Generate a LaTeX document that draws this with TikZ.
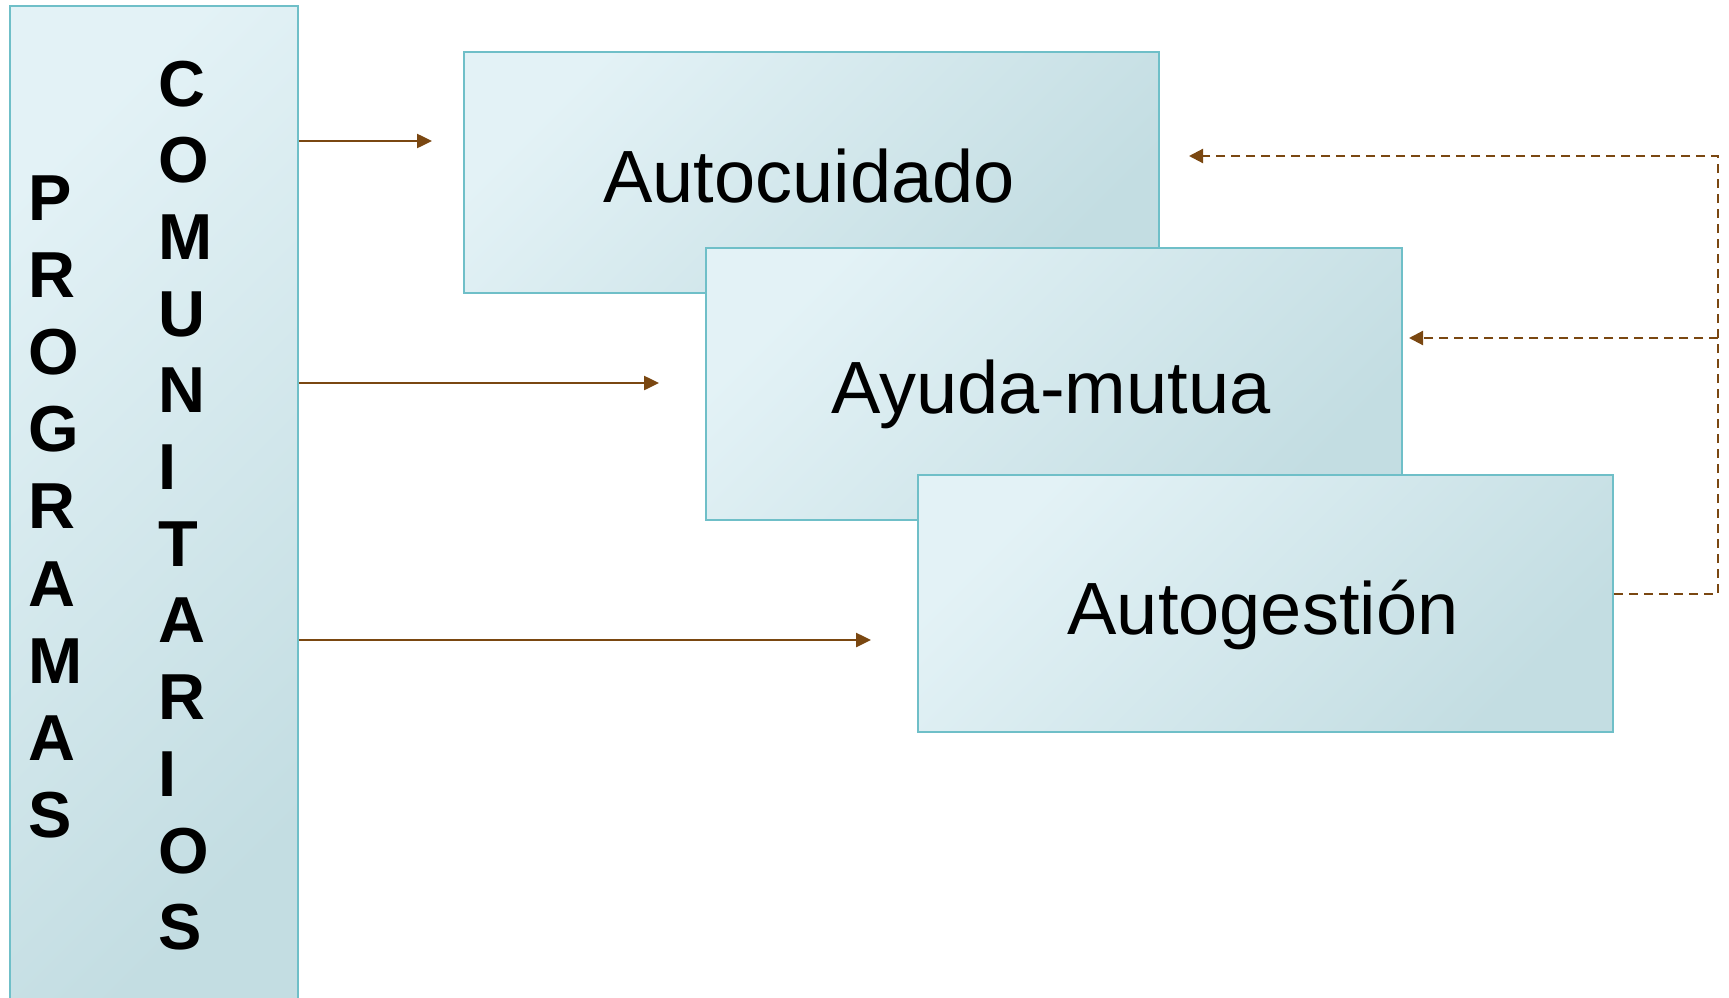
\documentclass[tikz,border=0pt]{standalone}
\usepackage{fontspec}
\setmainfont{Liberation Sans}
\usetikzlibrary{arrows.meta}
\definecolor{boxline}{HTML}{6FBFC8}
\definecolor{fillA}{HTML}{E3F2F6}
\definecolor{fillM}{HTML}{DDEFF3}
\definecolor{fillB}{HTML}{C3DDE2}
\definecolor{arrbrown}{HTML}{7A4711}
\begin{document}
\begin{tikzpicture}[x=1pt,y=-1pt,
  box/.style={draw=boxline, line width=2pt, top color=fillA, middle color=fillM, bottom color=fillB, shading angle=45, inner sep=0pt, anchor=north west},
  bigtext/.style={font=\fontsize{74}{80}\selectfont, inner sep=0pt, anchor=base},
  vlet/.style={font=\fontsize{65}{70}\selectfont\bfseries, inner sep=0pt, anchor=base west},
  arr/.style={draw=arrbrown, line width=2.5pt, -{Triangle[length=15pt,width=14pt]}},
  dsh/.style={draw=arrbrown, line width=2.2pt, dash pattern=on 9pt off 6pt},
  dsharr/.style={dsh, -{Triangle[length=14pt,width=14pt]}}]
\useasboundingbox (0,0) rectangle (1729,998);
\clip (0,0) rectangle (1729,998);
% left box
\node[box, minimum width=288pt, minimum height=1010pt] (prog) at (9,5) {};
\foreach \l [count=\i] in {P,R,O,G,R,A,M,A,S}
  \node[vlet] (p\i) at (28,{220+(\i-1)*77.2}) {\l};
\foreach \l [count=\i] in {C,O,M,U,N,I,T,A,R,I,O,S}
  \node[vlet] (c\i) at (158,{106+(\i-1)*76.7}) {\l};
% boxes
\node[box, minimum width=695pt, minimum height=241pt] (cuid) at (463,51) {};
\node[bigtext] (tcuid) at (809,202) {Autocuidado};
\node[box, minimum width=696pt, minimum height=272pt] (ayuda) at (705,247) {};
\node[bigtext] (tayuda) at (1051,413) {Ayuda-mutua};
\node[box, minimum width=695pt, minimum height=257pt] (gest) at (917,474) {};
\node[bigtext] (tgest) at (1263,634) {Autogestión};
% solid arrows
\coordinate (t1) at (432,141);
\coordinate (t2) at (659,383);
\coordinate (t3) at (871,640);
\draw[arr] (prog.east |- t1) -- (t1);
\draw[arr] (prog.east |- t2) -- (t2);
\draw[arr] (prog.east |- t3) -- (t3);
% dashed feedback
\coordinate (k1) at (1718,156);
\coordinate (k2) at (1718,338);
\coordinate (k3) at (1718,594);
\coordinate (d1) at (1189,156);
\coordinate (d2) at (1409,338);
\draw[dsharr] (gest.east |- k3) -- (k3) -- (k1) -- (d1);
\draw[dsharr] (k2) -- (d2);
\end{tikzpicture}
\end{document}
